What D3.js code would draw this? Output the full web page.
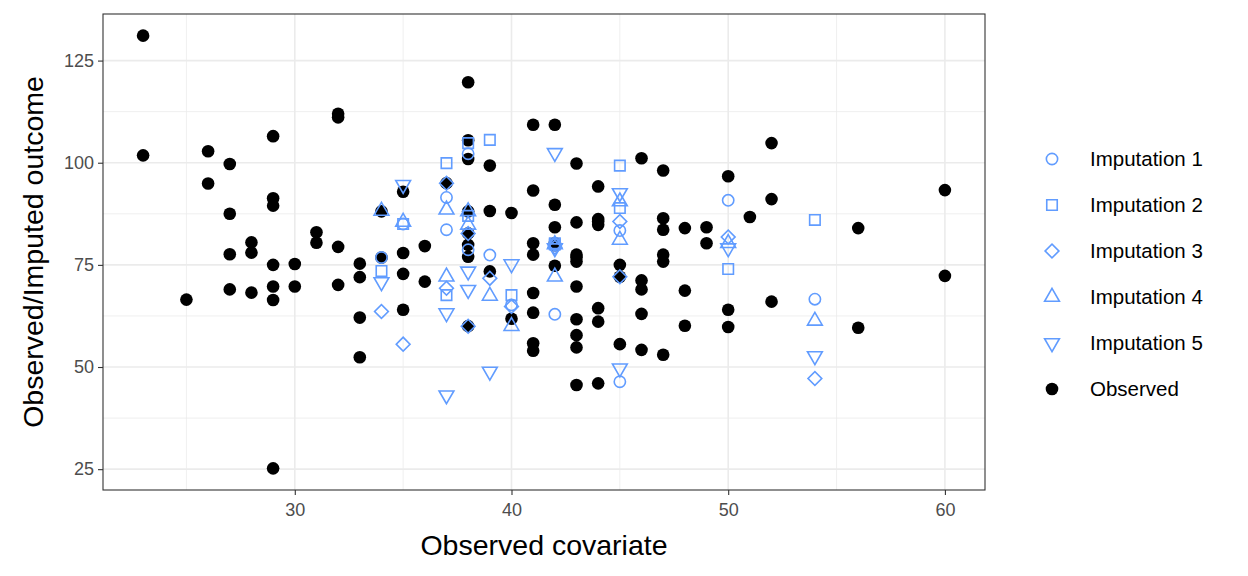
<!DOCTYPE html>
<html><head><meta charset="utf-8">
<script src="https://cdn.jsdelivr.net/npm/d3@7"></script>
<style>body{margin:0;background:#fff;} text{font-family:"Liberation Sans",Arial,sans-serif;}</style>
</head><body>
<svg id="c" width="1248" height="576"></svg>
<script>
// Observed data
const obsX = [23,23,25,26,26,27,27,27,27,28,28,28,29,29,29,29,29,29,29,30,30,31,31,32,32,32,32,
  33,33,33,33,34,34,35,35,35,35,36,36,37,38,38,38,38,38,38,38,38,39,39,39,40,40,
  41,41,41,41,41,41,41,41,42,42,42,42,42,42,43,43,43,43,43,43,43,43,43,43,
  44,44,44,44,44,44,44,45,45,45,46,46,46,46,46,47,47,47,47,47,47,48,48,48,49,49,
  50,50,50,51,52,52,52,56,56,60,60];
const obsY = [131.1,101.8,66.5,102.8,94.9,99.7,87.5,77.6,69.0,80.5,78.0,68.2,106.5,91.3,89.5,75.0,69.7,66.4,25.2,75.2,69.7,83.0,80.4,112.0,111.1,79.4,70.1,
  75.3,72.0,62.1,52.4,88.1,76.8,92.9,77.9,72.8,64.0,79.6,70.9,95.0,119.7,105.5,100.9,88.1,82.7,79.9,77.0,60.0,99.3,88.2,73.4,87.7,61.8,
  109.3,93.2,80.3,77.5,68.1,63.3,55.8,54.0,109.3,89.7,84.2,80.3,74.8,79.8,
  99.8,85.4,77.5,75.8,69.7,61.7,57.8,54.8,45.6,76.8,
  94.2,86.2,84.8,64.4,61.1,46.0,85.6,75.0,72.1,55.6,101.1,71.2,69.0,63.0,54.2,98.1,86.4,83.6,77.5,75.8,53.0,84.0,68.7,60.1,84.2,80.3,
  96.7,64.0,59.8,86.7,104.8,91.1,66.0,84.0,59.6,93.3,72.3];
// Imputed cases (covariate of cases with missing outcome)
const impX = [34,35,37,37,38,38,39,40,42,42,45,45,50,54];
const imp1 = [76.8,85.0,91.5,83.6,102.2,78.7,77.4,65.2,62.9,80.0,83.4,46.4,90.8,66.6];
const imp2 = [73.5,85.0,99.9,67.6,104.8,87.0,105.6,67.6,80.3,80.0,99.3,88.9,74.0,86.0];
const imp3 = [63.6,55.6,95.0,69.3,82.7,60.0,71.7,64.8,79.3,80.0,85.6,72.1,81.8,47.2];
const imp4 = [88.2,85.5,88.5,72.1,88.1,84.8,67.4,60.0,72.1,80.0,90.5,81.1,80.3,61.3];
const imp5 = [70.8,94.6,63.2,43.1,73.4,68.9,48.9,75.2,102.4,79.1,92.6,49.7,79.1,52.7];
const seriesNames = ["Imputation 1","Imputation 2","Imputation 3","Imputation 4","Imputation 5","Observed"];
const xTicks = [30,40,50,60];
const yTicks = [25,50,75,100,125];

const blue = "#619CFF";
const svg = d3.select("#c");
const L=103, R=985, T=14, B=490;
const x = d3.scaleLinear().domain([21.15,61.85]).range([L,R]);
const y = d3.scaleLinear().domain([19.9,136.4]).range([B,T]);

// grid
const g = svg.append("g");
const xMinor = [25,35,45,55], yMinor=[37.5,62.5,87.5,112.5];
g.selectAll(".xm").data(xMinor).join("line").attr("x1",d=>x(d)).attr("x2",d=>x(d)).attr("y1",T).attr("y2",B).attr("stroke","#ebebeb").attr("stroke-width",0.8);
g.selectAll(".ym").data(yMinor).join("line").attr("y1",d=>y(d)).attr("y2",d=>y(d)).attr("x1",L).attr("x2",R).attr("stroke","#ebebeb").attr("stroke-width",0.8);
g.selectAll(".xM").data(xTicks).join("line").attr("x1",d=>x(d)).attr("x2",d=>x(d)).attr("y1",T).attr("y2",B).attr("stroke","#ebebeb").attr("stroke-width",1.6);
g.selectAll(".yM").data(yTicks).join("line").attr("y1",d=>y(d)).attr("y2",d=>y(d)).attr("x1",L).attr("x2",R).attr("stroke","#ebebeb").attr("stroke-width",1.6);

// symbols
const shapes = [
  d3.symbol().type(d3.symbolCircle).size(100)(),
  d3.symbol().type(d3.symbolSquare).size(110)(),
  d3.symbol().type(d3.symbolSquare).size(95)(),
  d3.symbol().type(d3.symbolTriangle).size(95)(),
  d3.symbol().type(d3.symbolTriangle).size(95)()
];
const rot = [0,0,45,0,180];
const dot = d3.symbol().type(d3.symbolCircle).size(125)();

// observed
svg.append("g").selectAll("path").data(obsX.map((v,i)=>[v,obsY[i]])).join("path")
  .attr("d",dot).attr("fill","#000")
  .attr("transform",d=>`translate(${x(d[0])},${y(d[1])})`);

// imputed
const imps=[imp1,imp2,imp3,imp4,imp5];
imps.forEach((arr,k)=>{
  svg.append("g").selectAll("path").data(impX.map((v,i)=>[v,arr[i]])).join("path")
    .attr("d",shapes[k]).attr("fill","none").attr("stroke",blue).attr("stroke-width",1.6)
    .attr("transform",d=>`translate(${x(d[0])},${y(d[1])}) rotate(${rot[k]})`);
});

// border
svg.append("rect").attr("x",L).attr("y",T).attr("width",R-L).attr("height",B-T).attr("fill","none").attr("stroke","#333").attr("stroke-width",1.1);

// axes
const xa = svg.append("g").attr("transform",`translate(0,${B})`).call(d3.axisBottom(x).tickValues(xTicks).tickSize(5).tickPadding(4));
const ya = svg.append("g").attr("transform",`translate(${L},0)`).call(d3.axisLeft(y).tickValues(yTicks).tickSize(5).tickPadding(4));
[xa,ya].forEach(a=>{
  a.select(".domain").remove();
  a.selectAll(".tick line").attr("stroke","#333").attr("stroke-width",1.1);
  a.selectAll(".tick text").attr("fill","#4d4d4d").style("font-size","18px").style("font-family","Liberation Sans, Arial, sans-serif");
});
xa.selectAll(".tick text").attr("dy","0.95em");

svg.append("text").attr("x",544).attr("y",555).attr("text-anchor","middle").style("font-size","28.5px").attr("fill","#000").text("Observed covariate");
svg.append("text").attr("transform",`translate(43,${(T+B)/2}) rotate(-90)`).attr("text-anchor","middle").style("font-size","28.5px").attr("fill","#000").text("Observed/Imputed outcome");

// legend
const lg = svg.append("g");
seriesNames.forEach((n,i)=>{
  const yy = 159 + i*46;
  const p = lg.append("path").attr("transform",`translate(1052,${yy}) rotate(${i<5?rot[i]:0})`);
  if(i<5) p.attr("d",shapes[i]).attr("fill","none").attr("stroke",blue).attr("stroke-width",1.6);
  else p.attr("d",dot).attr("fill","#000");
  lg.append("text").attr("x",1090).attr("y",yy).attr("dy","0.36em").style("font-size","20.5px").attr("fill","#000").text(n);
});
</script>
</body></html>
